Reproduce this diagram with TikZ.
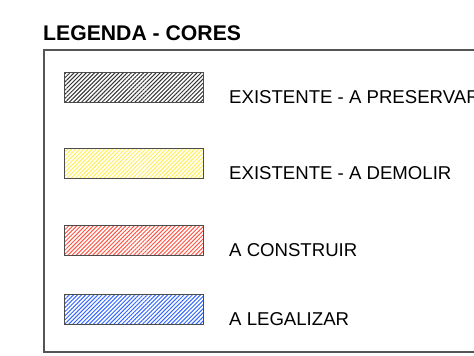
\documentclass[tikz,border=0pt]{standalone}
\usepackage{fontspec}
\setmainfont{Liberation Sans}
\usetikzlibrary{positioning,patterns.meta}
\definecolor{framegray}{HTML}{555555}
\definecolor{hatchgray}{HTML}{333333}
\definecolor{hatchyellow}{HTML}{FFEE55}
\definecolor{hatchred}{HTML}{FF5544}
\definecolor{hatchblue}{HTML}{3366FF}
\tikzset{%
  % Specifications for style of legend swatches:
      swatch/.style = {rectangle, draw=framegray!90!black, line width=1pt,
                       minimum width=139pt, minimum height=30pt,
                       inner sep=0pt, anchor=north west,
                       pattern={Lines[angle=45,distance=2.9pt,line width=1pt]}},
  preservar/.style = {swatch, pattern color=hatchgray},
    demolir/.style = {swatch, pattern color=hatchyellow},
  construir/.style = {swatch, pattern color=hatchred},
  legalizar/.style = {swatch, pattern color=hatchblue},
     legtext/.style = {anchor=base west, inner sep=0pt,
                       font=\fontsize{18.6}{21}\selectfont},
}
\begin{document}
\begin{tikzpicture}[x=1pt, y=1pt]
\useasboundingbox (0,0) rectangle (474,-356);
% Title and frame
\node (titulo) [anchor=base west, inner sep=0pt,
  font=\bfseries\fontsize{21.2}{24}\selectfont] at (43,-40) {LEGENDA - CORES};
\draw[framegray, line width=1.2pt] (44,-50) rectangle (490,-352);
% Swatches (position, etc.)
\node (preservar) [preservar] at (64,-72)                {};
\node (demolir)   [demolir, below=45pt of preservar.south west, anchor=north west]   {};
\node (construir) [construir, below=46pt of demolir.south west, anchor=north west]   {};
\node (legalizar) [legalizar, below=38pt of construir.south west, anchor=north west] {};
% Labels beside the swatches
\node (txtpreservar) [legtext, right=25pt of preservar.south east, anchor=base west]
                                          {EXISTENTE - A PRESERVAR};
\node (txtdemolir)   [legtext, right=25pt of demolir.south east, anchor=base west]
                                          {EXISTENTE - A DEMOLIR};
\node (txtconstruir) [legtext, right=25pt of construir.south east, anchor=base west]
                                          {A CONSTRUIR};
\node (txtlegalizar) [legtext, right=25pt of legalizar.south east, anchor=base west]
                                          {A LEGALIZAR};
\end{tikzpicture}
\end{document}
